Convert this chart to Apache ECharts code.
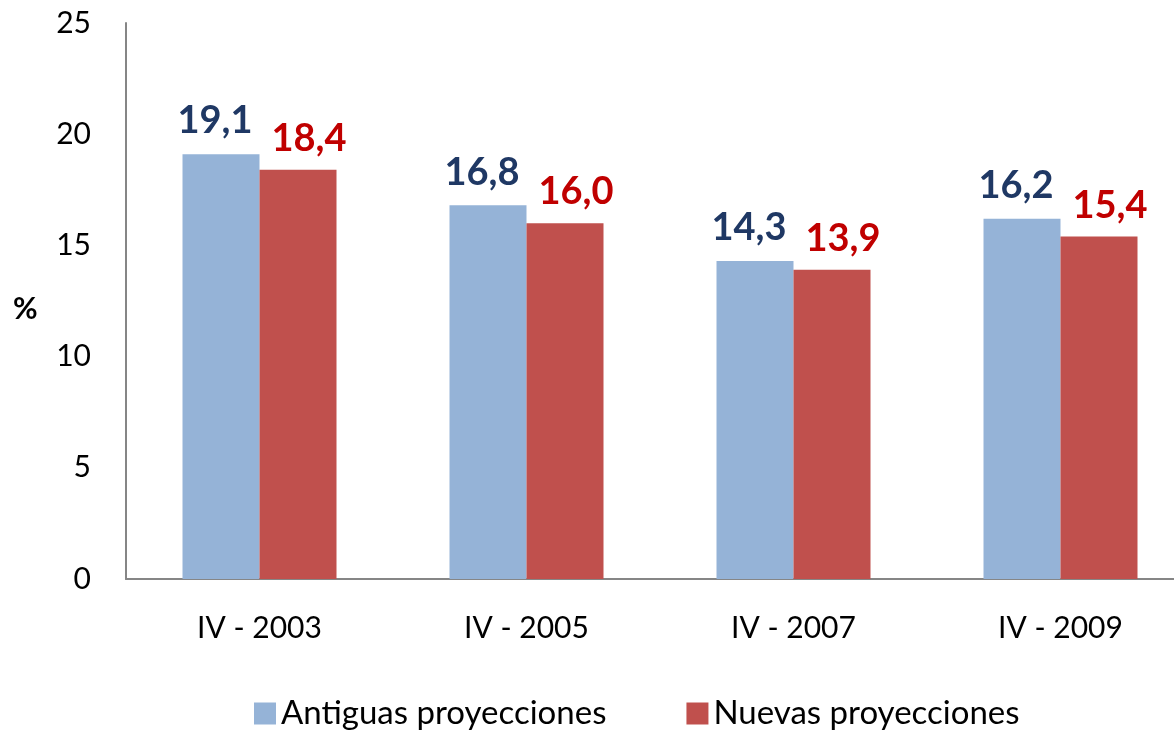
<!DOCTYPE html>
<html>
<head>
<meta charset="utf-8">
<script src="https://cdn.jsdelivr.net/npm/echarts@6/dist/echarts.min.js"></script>
<style>
  html, body { margin: 0; padding: 0; background: #fff; }
  #main { width: 1174px; height: 731px; }
</style>
</head>
<body>
<div id="main"></div>
<script>
var categories = ['IV - 2003', 'IV - 2005', 'IV - 2007', 'IV - 2009'];
var antiguas = [19.1, 16.8, 14.3, 16.2];
var nuevas = [18.4, 16.0, 13.9, 15.4];
var seriesNames = ['Antiguas proyecciones', 'Nuevas proyecciones'];
var unitLabel = '%';

var chart = echarts.init(document.getElementById('main'));

// etiquetas con coma decimal
function fmt(p) {
  return p.value.toFixed(1).replace('.', ',');
}

var option = {
  animation: false,
  textStyle: { fontFamily: 'Lato' },
  grid: { left: 126, width: 1068, top: 23, bottom: 152, outerBoundsMode: 'none' },
  graphic: [{
    type: 'text',
    left: 13,
    top: 294,
    style: { text: unitLabel, font: 'bold 30px Lato', fill: '#000' }
  }],
  legend: {
    left: 249,
    top: 692,
    itemWidth: 22,
    itemHeight: 22,
    itemGap: 80,
    icon: 'rect',
    textStyle: { fontSize: 33, lineHeight: 32, color: '#000', fontFamily: 'Lato' },
    data: seriesNames
  },
  xAxis: {
    type: 'category',
    data: categories,
    axisLine: { lineStyle: { color: '#868686', width: 2 } },
    axisTick: { show: false },
    axisLabel: { fontSize: 30, color: '#000', margin: 34 }
  },
  yAxis: {
    type: 'value',
    min: 0,
    max: 25,
    interval: 5,
    splitLine: { show: false },
    axisLine: { show: true, lineStyle: { color: '#868686', width: 2 } },
    axisTick: { show: false },
    axisLabel: { fontSize: 30, color: '#000', margin: 35 }
  },
  series: [{
    name: seriesNames[0],
    type: 'bar',
    data: antiguas,
    barWidth: 77,
    barGap: '0%',
    itemStyle: { color: '#95B3D7' },
    label: {
      show: true,
      position: 'top',
      distance: 14,
      offset: [-6, 0],
      formatter: fmt,
      fontSize: 38,
      fontWeight: 'bold',
      color: '#1F3864'
    }
  }, {
    name: seriesNames[1],
    type: 'bar',
    data: nuevas,
    barWidth: 77,
    itemStyle: { color: '#C0504D' },
    label: {
      show: true,
      position: 'top',
      distance: 12,
      offset: [11, 0],
      formatter: fmt,
      fontSize: 38,
      fontWeight: 'bold',
      color: '#C00000'
    }
  }]
};

chart.setOption(option);
</script>
</body>
</html>
